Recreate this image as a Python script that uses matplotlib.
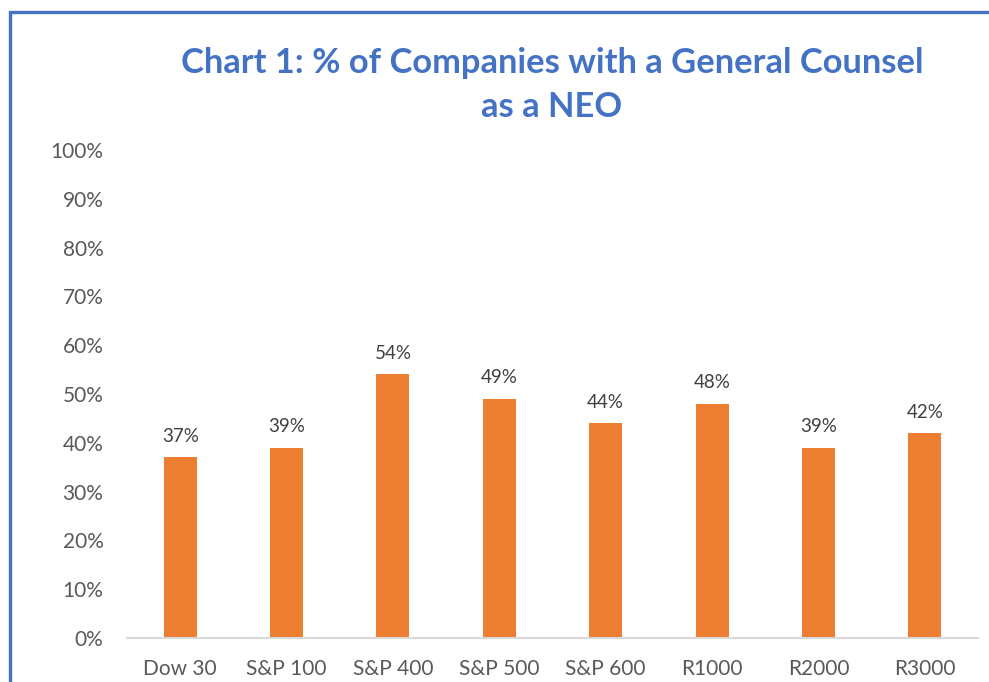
import numpy as np
import matplotlib.pyplot as plt
from matplotlib.lines import Line2D

categories = ["Dow 30", "S&P 100", "S&P 400", "S&P 500", "S&P 600", "R1000", "R2000", "R3000"]
values = [37, 39, 54, 49, 44, 48, 39, 42]
yticks = [0, 10, 20, 30, 40, 50, 60, 70, 80, 90, 100]

plt.rcParams["font.family"] = ["Lato", "DejaVu Sans"]

W, H = 989, 682
fig = plt.figure(figsize=(W / 100, H / 100), dpi=100)
ax = fig.add_axes([127 / W, (H - 638) / H, (978 - 127) / W, (638 - 150) / H])

x = np.arange(len(categories))
ax.bar(x, values, width=0.31, color="#ED7D31")
for xi, v in zip(x, values):
    ax.annotate(f"{v}%", (xi, v), xytext=(0, 9), textcoords="offset points",
                ha="center", va="bottom", fontsize=13.5, color="#404040")

ax.set_xlim(-0.5, len(categories) - 0.5)
ax.set_ylim(0, 100)
ax.set_yticks(yticks)
ax.set_yticklabels([f"{t}%" for t in yticks], fontsize=15, color="#595959")
ax.set_xticks(x)
ax.set_xticklabels(categories, fontsize=15, color="#595959")
ax.tick_params(length=0)
ax.tick_params(axis="y", pad=17)
ax.tick_params(axis="x", pad=15)
for s in ["top", "right", "left"]:
    ax.spines[s].set_visible(False)
ax.spines["bottom"].set_color("#D9D9D9")
ax.spines["bottom"].set_linewidth(1.5)

fig.text(552 / W, 1 - 63 / H, "Chart 1: % of Companies with a General Counsel",
         ha="center", va="center", fontsize=24.8, fontweight="bold", color="#4472C4")
fig.text(552 / W, 1 - 107 / H, "as a NEO",
         ha="center", va="center", fontsize=24.8, fontweight="bold", color="#4472C4")

# blue frame on the left and top
fig.add_artist(Line2D([9.5 / W, 9.5 / W, 1.0], [0, 1 - 12 / H, 1 - 12 / H],
                      color="#4472C4", linewidth=2.4, transform=fig.transFigure,
                      solid_joinstyle="miter"))

fig.savefig("out.png", dpi=100)
